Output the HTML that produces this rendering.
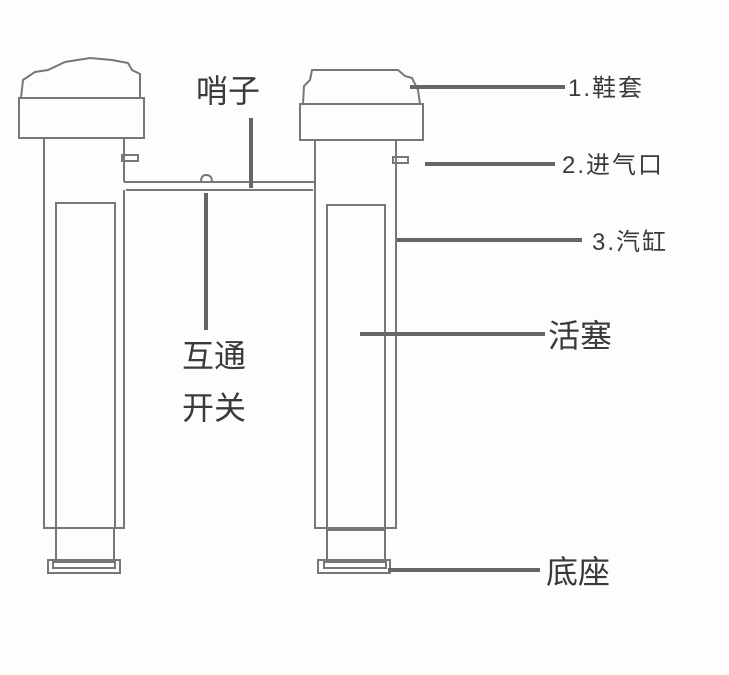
<!DOCTYPE html>
<html><head><meta charset="utf-8"><style>
body{margin:0;background:#fff}
svg{display:block}
text{font-family:"Liberation Sans","Noto Sans CJK SC",sans-serif;fill:#3a3a3a}
</style></head><body>
<svg width="729" height="675" viewBox="0 0 729 675" xmlns="http://www.w3.org/2000/svg">
<rect width="729" height="675" fill="#fdfdfd"/>
<g fill="none" stroke="#777" stroke-width="2">
<path d="M21 98 L23 80 L35 72 L48 70 L65 62 L90 58 L112 60 L128 63 L132 70 L140 74 L140 98"/>
<rect x="19" y="98" width="125" height="40"/>
<path d="M44 138 V528 H124 V190"/>
<path d="M124 138 V182"/>
<rect x="122" y="155" width="16" height="6"/>
<rect x="56" y="203" width="59" height="325"/>
<path d="M56 528 V562 M114 528 V562"/>
<rect x="48" y="560" width="72" height="13"/>
<rect x="53" y="562" width="62" height="6"/>
<path d="M124 182 H315 M126 190 H313"/>
<path d="M201 182 Q201 175 206 175 Q212 175 212 182"/>
<path d="M303 104 L304 86 L310 80 L312 70 L398 70 L405 76 L412 78 L418 90 L420 104"/>
<rect x="300" y="104" width="123" height="36"/>
<path d="M315 140 V528 H396 V140"/>
<rect x="393" y="157" width="15" height="6"/>
<rect x="327" y="205" width="58" height="325"/>
<path d="M327 530 V562 M385 530 V562"/>
<rect x="318" y="560" width="72" height="13"/>
<rect x="324" y="562" width="62" height="6"/>
</g>
<g stroke="#666" stroke-width="4" fill="none">
<path d="M251 118 V188"/>
<path d="M206 193 V330"/>
<path d="M410 87 H565"/>
<path d="M425 164 H555"/>
<path d="M397 240 H582"/>
<path d="M360 334 H545"/>
<path d="M388 570 H540"/>
</g>
<g font-size="32">
<text x="196" y="102">哨子</text>
<text x="182" y="367">互通</text>
<text x="182" y="419">开关</text>
<text x="548" y="347">活塞</text>
<text x="546" y="583">底座</text>
</g>
<g font-size="24" letter-spacing="2">
<text x="568" y="96">1.鞋套</text>
<text x="562" y="173">2.进气口</text>
<text x="592" y="250">3.汽缸</text>
</g>
</svg>
</body></html>
